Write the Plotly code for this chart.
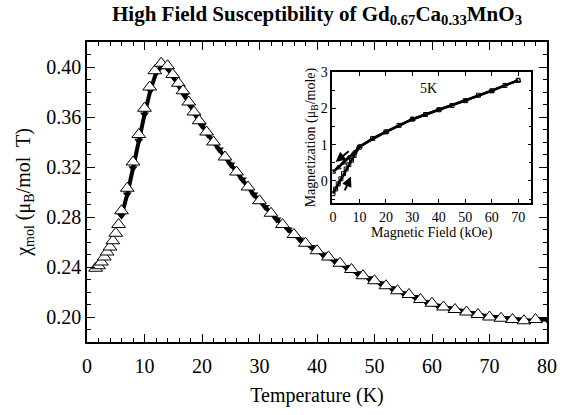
import plotly.graph_objects as go

# ---- main data: susceptibility vs temperature ----
T_open = [1.5, 2, 2.5, 3, 3.5, 4, 4.5, 5, 5.5, 6, 7, 8, 9, 10, 10.9, 11.8, 12.9,
          14, 14.9, 15.9, 16.7, 17.7, 18.6, 19.5, 20.8, 22, 24, 26, 28, 30, 32, 34,
          36, 38, 40, 42, 44, 46, 48, 50, 52, 54, 56, 58, 60, 62, 64, 66, 68, 70,
          72, 74, 76, 78]
chi_open = [0.239, 0.241, 0.244, 0.248, 0.252, 0.256, 0.261, 0.267, 0.274, 0.285,
            0.303, 0.324, 0.346, 0.367, 0.384, 0.397, 0.403,
            0.401, 0.394, 0.387, 0.381, 0.372, 0.364, 0.357, 0.348, 0.340, 0.328,
            0.316, 0.304, 0.293, 0.283, 0.274, 0.266, 0.259, 0.253, 0.248, 0.243,
            0.238, 0.233, 0.229, 0.225, 0.221, 0.218, 0.214, 0.211, 0.208, 0.206,
            0.204, 0.202, 0.200, 0.199, 0.198, 0.197, 0.198]

T_fill = [6, 7, 8, 9, 10, 11, 12, 13, 14, 15, 16, 17, 18, 19, 20, 21, 23, 25, 27,
          29, 31, 33, 35, 37, 39, 41, 43, 45, 47, 49, 51, 53, 55, 57, 59, 61, 63,
          65, 67, 69, 71, 73, 75, 77, 79, 80]
chi_fill = [0.281, 0.298, 0.319, 0.341, 0.362, 0.381, 0.395, 0.401, 0.399, 0.392,
            0.385, 0.377, 0.369, 0.361, 0.353, 0.346, 0.334, 0.322, 0.310, 0.298,
            0.288, 0.278, 0.270, 0.262, 0.256, 0.250, 0.245, 0.240, 0.235, 0.231,
            0.227, 0.223, 0.219, 0.216, 0.212, 0.209, 0.207, 0.205, 0.203, 0.201,
            0.200, 0.199, 0.198, 0.197, 0.198, 0.198]

# ---- inset data: magnetization at 5K ----
H_up = [0, 1, 2, 3, 4, 5, 6, 7, 8, 10, 15, 20, 25, 30, 35, 40, 45, 50, 55, 60, 65, 70]
M_up = [-0.35, -0.22, -0.08, 0.06, 0.20, 0.33, 0.45, 0.57, 0.70, 0.93, 1.17, 1.35,
        1.53, 1.70, 1.83, 1.96, 2.08, 2.21, 2.36, 2.48, 2.63, 2.77]
H_down = [70, 60, 50, 40, 30, 20, 10, 8, 6, 4, 2, 0]
M_down = [2.77, 2.48, 2.21, 1.96, 1.70, 1.35, 0.95, 0.78, 0.64, 0.50, 0.37, 0.25]

serif = "Liberation Serif"

fig = go.Figure()
fig.add_trace(go.Scatter(x=T_fill, y=chi_fill, mode="lines+markers",
                         line=dict(color="black", width=4),
                         marker=dict(symbol="triangle-down", size=8, color="black"),
                         showlegend=False))
fig.add_trace(go.Scatter(x=T_open, y=chi_open, mode="markers",
                         marker=dict(symbol="triangle-up", size=12, color="white",
                                     line=dict(color="black", width=1)),
                         showlegend=False))

fig.add_trace(go.Scatter(x=H_up, y=M_up, mode="lines+markers", xaxis="x2", yaxis="y2",
                         line=dict(color="black", width=2.5),
                         marker=dict(symbol="square-open", size=4, color="black"),
                         showlegend=False))
fig.add_trace(go.Scatter(x=H_down, y=M_down, mode="lines+markers", xaxis="x2", yaxis="y2",
                         line=dict(color="black", width=2.5),
                         marker=dict(symbol="triangle-up-open", size=5, color="black"),
                         showlegend=False))

axis_common = dict(showline=True, linecolor="black", linewidth=1.5, mirror="ticks",
                   ticks="inside", tickcolor="black", showgrid=False, zeroline=False)

fig.update_layout(
    width=569, height=415,
    margin=dict(l=87, r=17, t=42, b=62),
    paper_bgcolor="white", plot_bgcolor="white",
    font=dict(family=serif, color="black", size=20),
    title=dict(text="<b>High Field Susceptibility of Gd<sub>0.67</sub>Ca<sub>0.33</sub>MnO<sub>3</sub></b>",
               x=0.5, xref="paper", xanchor="center", y=0.985, yref="container",
               yanchor="top", font=dict(family=serif, size=21, color="black")),
    xaxis=dict(range=[0, 80], domain=[0, 1], tickvals=[0, 10, 20, 30, 40, 50, 60, 70, 80],
               ticklen=8, tickwidth=1.2, ticklabelstandoff=5,
               minor=dict(dtick=2, ticks="inside", ticklen=4, tickcolor="black"),
               title=dict(text="Temperature (K)", standoff=12, font=dict(size=20)),
               tickfont=dict(size=20), **axis_common),
    yaxis=dict(range=[0.18, 0.42], domain=[0, 1],
               tickvals=[0.20, 0.24, 0.28, 0.32, 0.36, 0.40], tickformat=".2f",
               ticklen=8, tickwidth=1.2,
               minor=dict(dtick=0.01, ticks="inside", ticklen=4, tickcolor="black"),
               title=dict(text="χ<sub>mol</sub> (μ<sub>B</sub>/mol  T)", standoff=10,
                          font=dict(size=20)),
               tickfont=dict(size=20), **axis_common),
    xaxis2=dict(range=[-0.3, 75], domain=[0.533, 0.966], anchor="y2",
                tickvals=[0, 10, 20, 30, 40, 50, 60, 70], ticklen=4, tickwidth=1,
                title=dict(text="Magnetic Field (kOe)", standoff=0, font=dict(size=14)),
                tickfont=dict(size=14), **axis_common),
    yaxis2=dict(range=[-0.61, 3], domain=[0.463, 0.900], anchor="x2",
                tickvals=[0, 1, 2, 3], ticklen=4, tickwidth=1,
                minor=dict(dtick=0.5, ticks="inside", ticklen=3, tickcolor="black"),
                title=dict(text="Magnetization (μ<sub>B</sub>/mole)", standoff=2,
                           font=dict(size=14)),
                tickfont=dict(size=14), **axis_common),
)

fig.add_annotation(x=36, y=2.55, xref="x2", yref="y2", text="5K", showarrow=False,
                   font=dict(family=serif, size=14, color="black"))
# hysteresis arrows
fig.add_annotation(x=1.0, y=0.52, ax=6.5, ay=0.85, xref="x2", yref="y2",
                   axref="x2", ayref="y2", text="", showarrow=True,
                   arrowhead=2, arrowsize=1, arrowwidth=2, arrowcolor="black")
fig.add_annotation(x=6.8, y=0.12, ax=4.2, ay=-0.3, xref="x2", yref="y2",
                   axref="x2", ayref="y2", text="", showarrow=True,
                   arrowhead=2, arrowsize=1, arrowwidth=2, arrowcolor="black")

fig.write_html("out.html")
